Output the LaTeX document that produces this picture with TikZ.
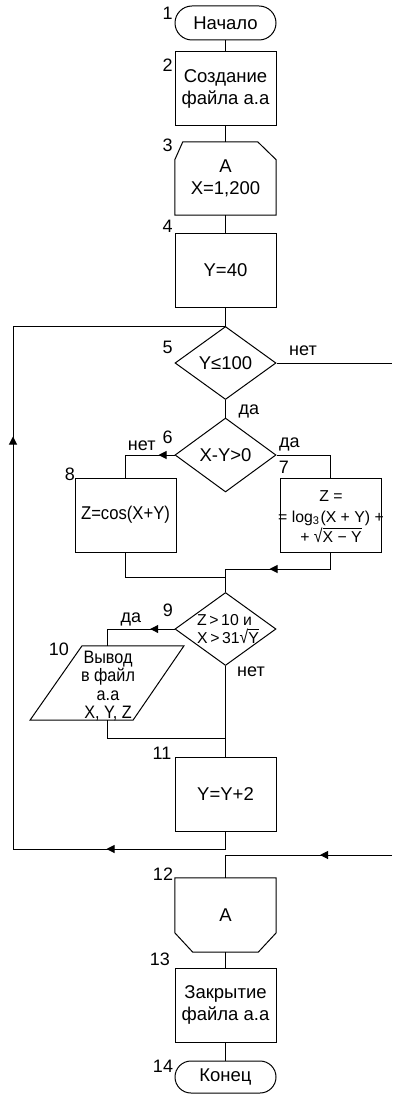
\documentclass[tikz,border=0pt]{standalone}
\usepackage{fontspec}
\usepackage{graphicx}
\setmainfont{Liberation Sans}
\newfontfamily\condfont[FakeStretch=0.9]{Liberation Sans}
\usetikzlibrary{shapes.geometric,arrows.meta,decorations.markings,calc}
\newlength\rtw
\newlength\rth
\newcommand\myrt[1]{\settowidth{\rtw}{#1}\setlength{\rth}{1.16\fontcharht\font`√}\addtolength{\rth}{-0.06em}\scalebox{1}[1.16]{√}\rlap{\rule[\rth]{\rtw}{0.06em}}#1}
\begin{document}
\begin{tikzpicture}[x=1pt,y=-1pt,
  font=\fontsize{18.5}{22}\selectfont,
  conn/.style={draw=black,line width=1pt},
  box/.style={rectangle,draw=black,line width=1pt,minimum width=101pt,minimum height=74pt,inner sep=0pt,align=center},
  hidden/.style={rectangle,draw=none,minimum width=101pt,minimum height=74pt,inner sep=0pt,align=center},
  term/.style={box,minimum height=34pt,rounded corners=17pt},
  dia/.style={diamond,draw=black,line width=1pt,minimum width=101pt,minimum height=73pt,inner sep=0pt},
  num/.style={anchor=base,inner sep=0pt,font=\fontsize{18}{22}\selectfont},
  tip/.style={postaction={decorate,decoration={markings,mark=at position #1 with {\arrow{Triangle[length=8pt,width=8pt]}}}}},
]
\fill[white] (0,0) rectangle (392,1094);
\useasboundingbox (0,0) rectangle (392,1094);

% nodes
\node[term] (n1) at (225.5,23) {Начало};
\node[box] (n2) at (225.5,89) {Создание\\файла а.а};
\node[hidden,minimum height=73pt] (n3) at (225.5,178.5) {A\\X=1,200};
\node[box] (n4) at (225.5,270) {Y=40};
\node[dia] (d5) at (225.5,363) {};
\node (t5) at (d5) {Y≤100};
\node[dia,minimum height=74pt] (d6) at (225.5,455) {};
\node (t6) at (d6) {X-Y>0};
\node[box] (n8) at (125.5,515) {\condfont Z=cos(X+Y)};
\node[box] (n7) at (330.5,515) {};
\node[align=center,inner sep=0pt,font=\fontsize{15.8}{20.5}\selectfont] (t7) at (331,516.7) {Z =\\= log\textsubscript{3}\kern1pt(X + Y) +\\+ \myrt{X − Y}};
\node[dia] (d9) at (225.5,629) {};
\node[align=left,inner sep=0pt,font=\fontsize{15.8}{17.8}\selectfont] (t9) at (228,629) {Z\,>\,10 и\\X\,>\,31\myrt{Y}};
\node[hidden,minimum width=102pt] (n10) at (107.5,683) {};
\node[align=center,inner sep=0pt,font=\condfont\fontsize{18}{18.5}\selectfont] (t10) at (108,686) {Вывод\\в файл\\а.а\\X, Y, Z};
\node[box] (n11) at (225.5,794) {Y=Y+2};
\node[hidden] (n12) at (225.5,915) {A};
\node[box] (n13) at (225.5,1005) {Закрытие\\файла а.а};
\node[term,minimum height=32pt,rounded corners=16pt] (n14) at (225.5,1077) {Конец};

% custom outlines
\draw[conn] ($(n3.north west)+(8,0)$) -- ($(n3.north east)+(-18.5,0)$) -- ($(n3.north east)+(0,18)$)
  -- (n3.south east) -- (n3.south west) -- ($(n3.north west)+(0,18)$) -- cycle;
\draw[conn] (n12.north west) -- (n12.north east) -- ($(n12.north east)+(0,55)$) -- ($(n12.south east)+(-18,0)$)
  -- ($(n12.south west)+(18,0)$) -- ($(n12.north west)+(0,55)$) -- cycle;
\draw[conn] ($(n10.north)+(-25.5,0)$) -- ($(n10.north)+(76.5,0)$) -- ($(n10.south)+(25.5,0)$) -- ($(n10.south)+(-77.5,0)$) -- cycle;

% coordinates
\coordinate (rc1) at (392,363);
\coordinate (rc2) at (392,855);
\coordinate (j1) at (225.5,569);
\coordinate (j2) at (225.5,577);
\coordinate (j3) at (225.5,738);
\coordinate (lb) at (13,849);

% connectors
\draw[conn] (n1.south) -- (n2.north);
\draw[conn] (n2.south) -- (n3.north);
\draw[conn] (n3.south) -- (n4.north);
\draw[conn] (n4.south) -- (d5.north);
\draw[conn] (d5.east) -- (rc1);
\draw[conn] (d5.south) -- (d6.north);
\draw[conn,tip=16pt] (d6.west) -| (n8.north);
\draw[conn] (d6.east) -| (n7.north);
\draw[conn] (n8.south) |- (j2);
\draw[conn,tip=77.5pt] (n7.south) |- (j1);
\draw[conn] (j1) -- (d9.north);
\draw[conn,tip=24.3pt] (d9.west) -| (n10.north);
\draw[conn] (n10.south) |- (j3);
\draw[conn] (d9.south) -- (n11.north);
\draw[conn,tip=136.5pt,tip=642.5pt] (n11.south) |- (lb) |- (d5.north);
\draw[conn,tip=72pt] (rc2) -| (n12.north);
\draw[conn] (n12.south) -- (n13.north);
\draw[conn] (n13.south) -- (n14.north);

% labels
\node[num] (l1) at (167.7,19.3) {1};
\node[num] (l2) at (167.7,71.7) {2};
\node[num] (l3) at (167.7,151.7) {3};
\node[num] (l4) at (167.7,232.7) {4};
\node[num] (l5) at (167.7,353.3) {5};
\node[num] (l6) at (167.7,443) {6};
\node[num] (l7) at (284,473) {7};
\node[num] (l8) at (70,480) {8};
\node[num] (l9) at (168,616) {9};
\node[num] (l10) at (59,655) {10};
\node[num] (l11) at (162,759) {11};
\node[num] (l12) at (163,880) {12};
\node[num] (l13) at (160,965) {13};
\node[num] (l14) at (163,1072) {14};
\node[num] (no5) at (303,355) {нет};
\node[num] (yes5) at (249,414.5) {да};
\node[num] (no6) at (141.7,450.5) {нет};
\node[num] (yes6) at (289.5,447.3) {да};
\node[num] (yes9) at (131,622.7) {да};
\node[num] (no9) at (251,676) {нет};
\end{tikzpicture}
\end{document}
